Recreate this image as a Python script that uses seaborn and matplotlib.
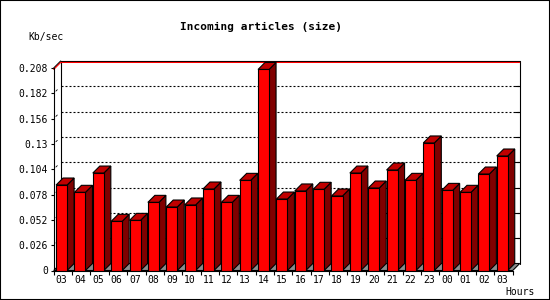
import numpy as np
import pandas as pd
import matplotlib
matplotlib.use("Agg")
import matplotlib.pyplot as plt
import seaborn as sns
from matplotlib.patches import Polygon, Rectangle

# ---- data ----
hours = ["03", "04", "05", "06", "07", "08", "09", "10", "11", "12", "13", "14",
         "15", "16", "17", "18", "19", "20", "21", "22", "23", "00", "01", "02", "03"]
kbsec = [0.0878, 0.0803, 0.1001, 0.0505, 0.0515, 0.0700, 0.0652, 0.0673, 0.0837,
         0.0700, 0.0926, 0.2065, 0.0734, 0.0817, 0.0834, 0.0765, 0.1001, 0.0847,
         0.1032, 0.0926, 0.1310, 0.0823, 0.0803, 0.0991, 0.1176]
yticks = [0, 0.026, 0.052, 0.078, 0.104, 0.13, 0.156, 0.182, 0.208]
ytick_labels = ["0", "0.026", "0.052", "0.078", "0.104", "0.13", "0.156", "0.182", "0.208"]
title = "Incoming articles (size)"
ylabel = "Kb/sec"
xlabel = "Hours"

df = pd.DataFrame({"slot": range(len(kbsec)), "kbsec": kbsec})

sns.set_theme(style="white")
plt.rcParams["font.family"] = ["DejaVu Sans Mono"]

W, H = 550, 300
fig = plt.figure(figsize=(5.5, 3), dpi=100)
fig.patch.set_facecolor("white")
ax = fig.add_axes([53.7 / W, 1 - 270.5 / H, 459 / W, 202.5 / H])
ax.set_facecolor("none")

sns.barplot(data=df, x="slot", y="kbsec", color="#ff0000", saturation=1,
            width=0.6, edgecolor="black", linewidth=0.8, ax=ax, zorder=4)

XL, XR = -0.43, len(kbsec) - 0.43
YTOP = yticks[-1]
ax.set_xlim(XL, XR)
ax.set_ylim(0, YTOP)

DX, DY = 7, 7


def off(x, y, dx=DX, dy=DY):
    p = ax.transData.transform((x, y)) + np.array([dx, dy])
    return tuple(ax.transData.inverted().transform(p))


LW = 0.8
# floor
ax.add_patch(Polygon([(XL, 0), (XR, 0), off(XR, 0), off(XL, 0)], closed=True,
                     facecolor="#8c8c8c", edgecolor="black", lw=LW, zorder=1, clip_on=False))
# back wall frame
bl, tl, tr, br = off(XL, 0), off(XL, YTOP), off(XR, YTOP), off(XR, 0)
ax.plot([bl[0], tl[0], tr[0], br[0]], [bl[1], tl[1], tr[1], br[1]],
        color="black", lw=LW, clip_on=False, zorder=1.5)
# dotted gridlines on back wall
for t in yticks[1:-1]:
    a, b = off(XL, t), off(XR, t)
    ax.plot([a[0], b[0]], [a[1], b[1]], color="black", lw=LW,
            linestyle=(0, (1.8, 1.8)), clip_on=False, zorder=1.5)
    # small right-wall ticks
    c = off(XR, t, DX - 5, DY)
    ax.plot([c[0], b[0]], [c[1], b[1]], color="black", lw=LW, clip_on=False, zorder=1.5)
    # small diagonal marks near front axis
    d1, d2 = off(XL, t, 2.2, 2.2), off(XL, t, 3.6, 3.6)
    ax.plot([d1[0], d2[0]], [d1[1], d2[1]], color="black", lw=0.6, clip_on=False, zorder=1.5)
# top-left diagonal
tt = off(XL, YTOP)
ax.plot([XL, tt[0]], [YTOP, tt[1]], color="black", lw=LW, clip_on=False, zorder=1.6)
# red max line
vmax = max(kbsec)
m1, m2 = off(XL, vmax), off(XR, vmax)
ax.plot([XL, m1[0], m2[0]], [vmax, m1[1], m2[1]], color="#ff0000", lw=LW,
        clip_on=False, zorder=1.7)

# 3D sides and tops from the seaborn bars
for p in list(ax.patches):
    if not isinstance(p, Rectangle):
        continue
    x0, w, h = p.get_x(), p.get_width(), p.get_height()
    x1 = x0 + w
    side = [(x1, 0), (x1, h), off(x1, h), off(x1, 0)]
    top = [(x0, h), (x1, h), off(x1, h), off(x0, h)]
    ax.add_patch(Polygon(side, closed=True, facecolor="#800000", edgecolor="black",
                         lw=LW, zorder=3, clip_on=False))
    ax.add_patch(Polygon(top, closed=True, facecolor="#c00000", edgecolor="black",
                         lw=LW, zorder=3, clip_on=False))

# axes / ticks
for s in ["top", "right"]:
    ax.spines[s].set_visible(False)
for s in ["left", "bottom"]:
    ax.spines[s].set_color("black")
    ax.spines[s].set_linewidth(LW)
    ax.spines[s].set_zorder(5)

ax.set_xticks(range(len(hours)))
ax.set_xticklabels(hours)
ax.set_xticks(np.arange(len(hours) + 1) + XL, minor=True)
ax.tick_params(axis="x", which="major", length=0, pad=3.5, labelsize=7, colors="black")
ax.tick_params(axis="x", which="minor", length=3, width=LW, direction="out",
               color="black", bottom=True)
ax.set_yticks(yticks)
ax.set_yticklabels(ytick_labels)
ax.tick_params(axis="y", length=2.5, width=LW, pad=1.5, labelsize=7,
               direction="out", color="black", left=True, labelcolor="black")
ax.set_xlabel("")
ax.set_ylabel("")

fig.text(261 / W, 1 - 27 / H, title, ha="center", va="center",
         fontsize=8, fontweight="bold", color="black")
fig.text(28 / W, 1 - 37 / H, ylabel, ha="left", va="center", fontsize=7, color="black")
fig.text(505 / W, 1 - 292 / H, xlabel, ha="left", va="center", fontsize=7, color="black")

fig.add_artist(Rectangle((0, 0), 1, 1, transform=fig.transFigure, fill=False,
                         edgecolor="black", lw=1.5))

fig.savefig("out.png", dpi=100, facecolor="white")
